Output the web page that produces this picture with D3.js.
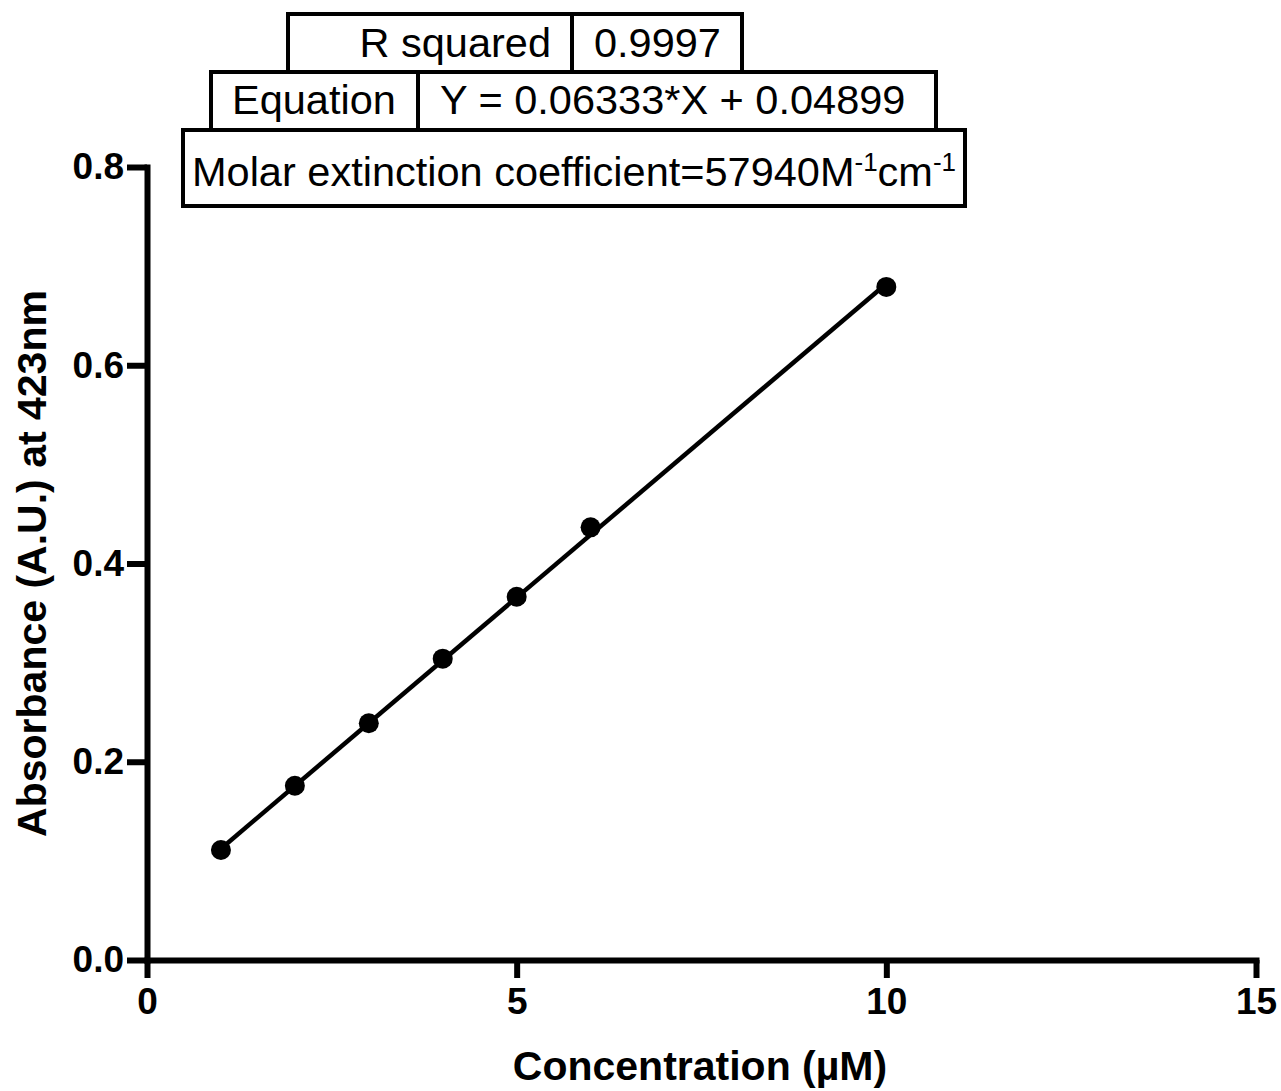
<!DOCTYPE html>
<html>
<head>
<meta charset="utf-8">
<script src="https://cdn.jsdelivr.net/npm/d3@7"></script>
<style>
  html, body { margin: 0; padding: 0; background: #fff; }
  svg { display: block; }
  text { font-family: "Liberation Sans", Arial, Helvetica, sans-serif; fill: #000; }
</style>
</head>
<body>
<svg id="chart" width="1281" height="1091"></svg>
<script>
// ---- data ----
const concentration = [1, 2, 3, 4, 5, 6, 10];
const absorbance = [0.111, 0.1758, 0.2388, 0.304, 0.3665, 0.4365, 0.679];
const fitSlope = 0.06333;
const fitIntercept = 0.04899;
const xTickValues = [0, 5, 10, 15];
const yTickValues = [0, 0.2, 0.4, 0.6, 0.8];
const xTitle = "Concentration (\u00B5M)";
const yTitle = "Absorbance (A.U.) at 423nm";
const rSquaredRow = ["R squared", "0.9997"];
const equationRow = ["Equation", "Y = 0.06333*X + 0.04899"];
const coefficientParts = ["Molar extinction coefficient=57940M", "-1", "cm", "-1"];

// ---- layout ----
const svg = d3.select("#chart");
const x = d3.scaleLinear().domain([0, 15]).range([147, 1256]);
const y = d3.scaleLinear().domain([0, 0.8]).range([960, 167]);

const axisW = 6;

// X axis
const gx = svg.append("g").attr("transform", `translate(0,${y(0)})`)
  .call(d3.axisBottom(x).tickValues(xTickValues).tickFormat(d3.format("d"))
    .tickSize(18).tickSizeOuter(0).tickPadding(10));
// Y axis
const gy = svg.append("g").attr("transform", `translate(${x(0)},0)`)
  .call(d3.axisLeft(y).tickValues(yTickValues).tickFormat(d3.format(".1f"))
    .tickSize(20).tickSizeOuter(0).tickPadding(3));

[gx, gy].forEach(g => {
  g.select(".domain").attr("stroke", "#000").attr("stroke-width", axisW).attr("stroke-linecap", "square");
  g.selectAll(".tick line").attr("stroke", "#000").attr("stroke-width", axisW);
  g.selectAll(".tick text")
    .style("font-family", '"Liberation Sans", Arial, sans-serif')
    .style("font-weight", "bold")
    .style("font-size", "37px")
    .attr("fill", "#000");
});

// Fit line
const lineGen = d3.line().x(d => x(d)).y(d => y(fitSlope * d + fitIntercept));
svg.append("path")
  .datum([d3.min(concentration), d3.max(concentration)])
  .attr("d", lineGen)
  .attr("fill", "none")
  .attr("stroke", "#000")
  .attr("stroke-width", 4.5);

// Points
svg.append("g").selectAll("circle")
  .data(concentration.map((c, i) => [c, absorbance[i]]))
  .join("circle")
  .attr("cx", d => x(d[0]))
  .attr("cy", d => y(d[1]))
  .attr("r", 10)
  .attr("fill", "#000");

// Axis titles
svg.append("text")
  .attr("x", 700).attr("y", 1080)
  .attr("text-anchor", "middle")
  .style("font-weight", "bold").style("font-size", "41px")
  .text(xTitle);

svg.append("text")
  .attr("transform", `translate(46,${(y(0) + y(0.8)) / 2}) rotate(-90)`)
  .attr("text-anchor", "middle")
  .style("font-weight", "bold").style("font-size", "41px")
  .text(yTitle);

// Table boxes
const tbl = svg.append("g");
const boxStroke = 4;
function box(x0, y0, x1, y1) {
  tbl.append("rect").attr("x", x0).attr("y", y0).attr("width", x1 - x0).attr("height", y1 - y0)
    .attr("fill", "#fff").attr("stroke", "#000").attr("stroke-width", boxStroke);
}
function vline(xx, y0, y1) {
  tbl.append("line").attr("x1", xx).attr("x2", xx).attr("y1", y0).attr("y2", y1)
    .attr("stroke", "#000").attr("stroke-width", boxStroke);
}
const fs = "41.5px";
box(183, 130, 965, 206);
box(211, 72, 936, 130);
box(288, 14, 742, 72);
vline(572, 14, 72);
vline(418, 72, 130);

tbl.append("text").attr("x", 551).attr("y", 57).attr("text-anchor", "end").style("font-size", fs).text(rSquaredRow[0]);
tbl.append("text").attr("x", 594).attr("y", 57).style("font-size", fs).text(rSquaredRow[1]);
tbl.append("text").attr("x", 232).attr("y", 114).style("font-size", fs).text(equationRow[0]);
tbl.append("text").attr("x", 440).attr("y", 114).style("font-size", fs).text(equationRow[1]);

const t3 = tbl.append("text").attr("x", 192).attr("y", 186).style("font-size", fs);
t3.append("tspan").text(coefficientParts[0]);
t3.append("tspan").attr("dy", -15).style("font-size", "26px").text(coefficientParts[1]);
t3.append("tspan").attr("dy", 15).text(coefficientParts[2]);
t3.append("tspan").attr("dy", -15).style("font-size", "26px").text(coefficientParts[3]);
</script>
</body>
</html>
